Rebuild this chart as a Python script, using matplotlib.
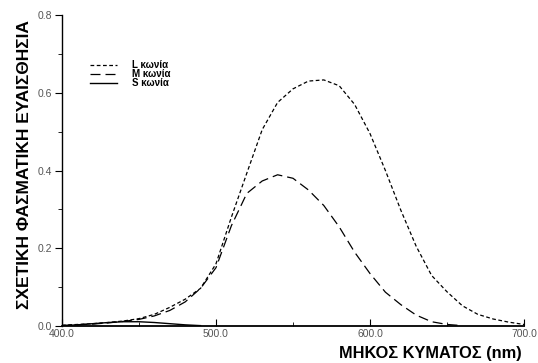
import matplotlib
matplotlib.use("Agg")
import matplotlib.pyplot as plt
from matplotlib.ticker import MultipleLocator, FormatStrFormatter

# wavelengths (nm) and relative spectral sensitivity
wl = [400, 410, 420, 430, 440, 450, 460, 470, 480, 490, 500, 510, 520, 530, 540,
      550, 560, 570, 580, 590, 600, 610, 620, 630, 640, 650, 660, 670, 680, 690, 700]
l_cone = [0.002, 0.004, 0.006, 0.009, 0.013, 0.019, 0.030, 0.048, 0.069, 0.097,
          0.160, 0.280, 0.393, 0.505, 0.575, 0.610, 0.630, 0.633, 0.618, 0.570,
          0.495, 0.400, 0.298, 0.205, 0.130, 0.088, 0.052, 0.030, 0.018, 0.010, 0.004]
wl_m = [400, 410, 420, 430, 440, 450, 460, 470, 480, 490, 500, 510, 520, 530, 540,
        550, 560, 570, 580, 590, 600, 610, 620, 630, 640, 650, 660]
m_cone = [0.001, 0.003, 0.005, 0.008, 0.012, 0.017, 0.026, 0.040, 0.062, 0.097,
          0.150, 0.258, 0.341, 0.373, 0.389, 0.380, 0.350, 0.310, 0.255, 0.190,
          0.135, 0.087, 0.055, 0.028, 0.011, 0.004, 0.001]
wl_s = [400, 410, 420, 430, 440, 450, 460, 470, 480, 490]
s_cone = [0.001, 0.003, 0.006, 0.009, 0.011, 0.011, 0.009, 0.006, 0.003, 0.001]

labels = ['L κωνία', 'M κωνία', 'S κωνία']

plt.rcParams['font.family'] = ['Liberation Sans', 'DejaVu Sans']

fig = plt.figure(figsize=(5.38, 3.63), dpi=100)
ax = fig.add_axes([0.1152, 0.1019, 0.8588, 0.8568])

ax.plot(wl, l_cone, color='black', lw=0.9, linestyle=(0, (3, 2)), label=labels[0])
ax.plot(wl_m, m_cone, color='black', lw=0.9, linestyle=(0, (8, 4)), label=labels[1])
ax.plot(wl_s, s_cone, color='black', lw=1.0, label=labels[2])

ax.set_xlim(400, 700)
ax.set_ylim(0, 0.8)
ax.spines['top'].set_visible(False)
ax.spines['right'].set_visible(False)
ax.spines['bottom'].set_linewidth(1.3)
ax.spines['left'].set_linewidth(1.0)

ax.xaxis.set_major_locator(MultipleLocator(100))
ax.xaxis.set_minor_locator(MultipleLocator(50))
ax.yaxis.set_major_locator(MultipleLocator(0.2))
ax.yaxis.set_minor_locator(MultipleLocator(0.1))
ax.xaxis.set_major_formatter(FormatStrFormatter('%.1f'))
ax.yaxis.set_major_formatter(FormatStrFormatter('%.1f'))

ax.tick_params(axis='x', which='major', direction='in', length=5, labelsize=7.5,
               labelcolor='#555555', pad=2)
ax.tick_params(axis='x', which='minor', direction='in', length=3)
ax.tick_params(axis='y', which='major', direction='out', length=5, labelsize=7.5,
               labelcolor='#555555', pad=2)
ax.tick_params(axis='y', which='minor', direction='out', length=3)

ax.set_xlabel('ΜΗΚΟΣ ΚΥΜΑΤΟΣ (nm)', fontsize=11.8, fontweight='bold', loc='right')
ax.xaxis.set_label_coords(0.995, -0.065)
ax.xaxis.label.set_horizontalalignment('right')
ax.set_ylabel('ΣΧΕΤΙΚΗ ΦΑΣΜΑΤΙΚΗ ΕΥΑΙΣΘΗΣΙΑ', fontsize=12.5, fontweight='bold')
ax.yaxis.set_label_coords(-0.064, 0.52)

ax.legend(loc='upper left', bbox_to_anchor=(0.05, 0.871), frameon=False,
          prop={'weight': 'bold', 'size': 7}, handlelength=2.8,
          handletextpad=1.5, labelspacing=-0.1, borderpad=0)

fig.savefig('out.png', dpi=100)
